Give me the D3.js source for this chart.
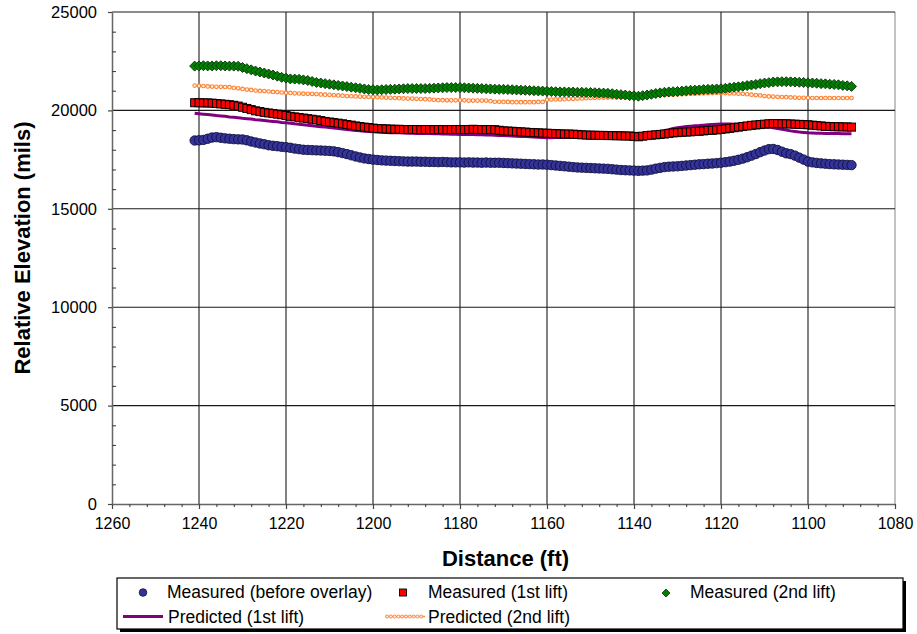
<!DOCTYPE html>
<html>
<head>
<meta charset="utf-8">
<script src="https://cdn.jsdelivr.net/npm/d3@7"></script>
<style>
  html, body { margin: 0; padding: 0; background: #fff; }
  svg { display: block; font-family: "Liberation Sans", Arial, sans-serif; }
</style>
</head>
<body>
<svg id="chart" width="917" height="634"></svg>
<script>
// Survey stations (ft), one reading per foot from 1241 down to 1090
const distance = d3.range(1241, 1089, -1);

// Measured elevation before overlay (mils)
const measuredBefore = [
  18470, 18480, 18500, 18560, 18620, 18640, 18610, 18580, 18560, 18540,
  18530, 18520, 18480, 18420, 18370, 18320, 18280, 18230, 18200, 18180,
  18150, 18130, 18100, 18060, 18030, 18000, 17990, 17980, 17970, 17960,
  17950, 17940, 17920, 17880, 17830, 17780, 17720, 17660, 17610, 17560,
  17530, 17500, 17480, 17460, 17450, 17440, 17430, 17420, 17410, 17400,
  17400, 17400, 17390, 17390, 17380, 17380, 17370, 17380, 17370, 17360,
  17360, 17360, 17350, 17360, 17350, 17350, 17340, 17350, 17340, 17340,
  17340, 17330, 17320, 17310, 17300, 17290, 17280, 17270, 17260, 17250,
  17250, 17240, 17220, 17200, 17180, 17160, 17140, 17120, 17100, 17090,
  17080, 17070, 17060, 17050, 17040, 17030, 17010, 16990, 16970, 16960,
  16950, 16940, 16930, 16940, 16950, 16990, 17040, 17080, 17120, 17140,
  17150, 17160, 17180, 17200, 17220, 17240, 17260, 17270, 17290, 17300,
  17320, 17340, 17370, 17400, 17440, 17490, 17550, 17620, 17700, 17780,
  17880, 17960, 18030, 18040, 17990, 17900, 17820, 17780, 17700, 17600,
  17500, 17400, 17360, 17330, 17310, 17290, 17270, 17260, 17250, 17240,
  17230, 17220
];

// Measured elevation after 1st lift (mils)
const measured1st = [
  20390, 20390, 20380, 20380, 20370, 20350, 20330, 20310, 20290, 20260,
  20220, 20160, 20100, 20040, 19980, 19940, 19900, 19870, 19840, 19810,
  19780, 19740, 19700, 19670, 19640, 19610, 19580, 19550, 19520, 19480,
  19440, 19410, 19380, 19350, 19320, 19280, 19250, 19210, 19180, 19150,
  19130, 19100, 19080, 19070, 19060, 19050, 19040, 19040, 19030, 19030,
  19030, 19030, 19020, 19030, 19030, 19020, 19030, 19030, 19020, 19030,
  19030, 19030, 19020, 19030, 19040, 19030, 19030, 19020, 19030, 19020,
  18990, 18960, 18950, 18940, 18920, 18910, 18900, 18880, 18870, 18860,
  18850, 18840, 18830, 18820, 18810, 18800, 18800, 18790, 18780, 18760,
  18750, 18740, 18740, 18730, 18730, 18720, 18720, 18710, 18710, 18700,
  18700, 18680, 18660, 18690, 18720, 18740, 18760, 18780, 18800, 18830,
  18860, 18870, 18890, 18900, 18910, 18930, 18940, 18960, 18980, 18990,
  19010, 19030, 19060, 19090, 19120, 19150, 19180, 19210, 19240, 19260,
  19280, 19300, 19320, 19330, 19330, 19320, 19320, 19310, 19300, 19290,
  19280, 19270, 19250, 19230, 19210, 19190, 19180, 19170, 19170, 19160,
  19160, 19150
];

// Measured elevation after 2nd lift (mils)
const measured2nd = [
  22250, 22260, 22270, 22260, 22260, 22270, 22270, 22260, 22250, 22250,
  22240, 22180, 22120, 22060, 22000, 21950, 21900, 21850, 21800, 21740,
  21680, 21640, 21600, 21590, 21580, 21550, 21520, 21470, 21420, 21390,
  21360, 21330, 21300, 21270, 21240, 21210, 21180, 21150, 21120, 21090,
  21060, 21050, 21040, 21050, 21060, 21070, 21080, 21090, 21100, 21110,
  21110, 21110, 21110, 21110, 21120, 21130, 21140, 21150, 21160, 21160,
  21160, 21160, 21150, 21140, 21130, 21120, 21110, 21100, 21090, 21080,
  21070, 21070, 21060, 21050, 21040, 21030, 21020, 21010, 21000, 20990,
  20980, 20970, 20960, 20950, 20940, 20940, 20930, 20930, 20920, 20920,
  20910, 20910, 20900, 20890, 20880, 20870, 20850, 20820, 20800, 20780,
  20750, 20740, 20720, 20750, 20780, 20820, 20860, 20890, 20920, 20940,
  20950, 20960, 20980, 21000, 21020, 21030, 21040, 21060, 21070, 21080,
  21090, 21100, 21120, 21150, 21180, 21200, 21230, 21260, 21290, 21320,
  21360, 21390, 21410, 21440, 21450, 21460, 21460, 21450, 21440, 21430,
  21420, 21400, 21390, 21380, 21360, 21350, 21330, 21320, 21300, 21270,
  21250, 21220
];

// Predicted elevation after 1st lift (mils)
const predicted1st = [
  19850, 19830, 19810, 19790, 19770, 19740, 19720, 19700, 19670, 19650,
  19630, 19600, 19580, 19560, 19530, 19510, 19490, 19460, 19440, 19420,
  19390, 19370, 19350, 19320, 19300, 19270, 19250, 19220, 19200, 19170,
  19150, 19130, 19100, 19080, 19050, 19030, 19000, 18980, 18960, 18940,
  18930, 18910, 18900, 18890, 18880, 18870, 18860, 18860, 18850, 18840,
  18840, 18830, 18830, 18820, 18820, 18810, 18810, 18800, 18800, 18790,
  18790, 18780, 18780, 18770, 18770, 18760, 18760, 18750, 18750, 18740,
  18730, 18720, 18710, 18700, 18690, 18680, 18670, 18660, 18650, 18640,
  18620, 18610, 18610, 18620, 18620, 18630, 18640, 18640, 18650, 18660,
  18660, 18670, 18680, 18680, 18690, 18690, 18700, 18700, 18710, 18710,
  18720, 18720, 18740, 18770, 18800, 18840, 18880, 18920, 18970, 19020,
  19080, 19120, 19150, 19180, 19200, 19220, 19230, 19250, 19270, 19290,
  19300, 19310, 19310, 19310, 19300, 19300, 19290, 19280, 19270, 19250,
  19230, 19200, 19160, 19120, 19080, 19040, 19000, 18960, 18930, 18900,
  18880, 18860, 18850, 18840, 18840, 18830, 18830, 18820, 18820, 18810,
  18810, 18810
];

// Predicted elevation after 2nd lift (mils)
const predicted2nd = [
  21260, 21250, 21240, 21220, 21210, 21200, 21200, 21190, 21180, 21150,
  21120, 21090, 21060, 21040, 21010, 20990, 20980, 20960, 20940, 20930,
  20910, 20900, 20890, 20870, 20860, 20850, 20840, 20840, 20830, 20810,
  20800, 20790, 20770, 20760, 20750, 20730, 20720, 20710, 20700, 20690,
  20680, 20680, 20670, 20660, 20650, 20640, 20630, 20620, 20610, 20600,
  20600, 20590, 20580, 20570, 20560, 20540, 20520, 20520, 20510, 20510,
  20510, 20510, 20510, 20500, 20500, 20500, 20500, 20500, 20470, 20440,
  20440, 20430, 20430, 20420, 20420, 20420, 20420, 20420, 20420, 20430,
  20430, 20540, 20550, 20560, 20560, 20570, 20580, 20590, 20600, 20610,
  20620, 20630, 20640, 20650, 20650, 20650, 20660, 20660, 20670, 20680,
  20690, 20700, 20710, 20720, 20730, 20740, 20760, 20770, 20780, 20790,
  20800, 20810, 20820, 20830, 20840, 20850, 20860, 20870, 20880, 20880,
  20890, 20890, 20880, 20870, 20860, 20850, 20840, 20820, 20800, 20780,
  20760, 20730, 20710, 20700, 20690, 20680, 20670, 20660, 20650, 20640,
  20640, 20640, 20630, 20630, 20630, 20630, 20630, 20630, 20630, 20630,
  20630, 20630
];

// Axis ticks
const xTicks = [1260, 1240, 1220, 1200, 1180, 1160, 1140, 1120, 1100, 1080];
const yTicks = [0, 5000, 10000, 15000, 20000, 25000];

const seriesNames = [
  "Measured (before overlay)",
  "Measured (1st lift)",
  "Measured (2nd lift)",
  "Predicted (1st lift)",
  "Predicted (2nd lift)"
];

const svg = d3.select("#chart");
svg.append("rect").attr("width", 917).attr("height", 634).attr("fill", "#fff");

const plot = { left: 112, right: 895, top: 12, bottom: 504 };

// Distance axis runs right-to-left (decreasing stations)
const x = d3.scaleLinear().domain([1260, 1080]).range([plot.left, plot.right]);
const y = d3.scaleLinear().domain([0, 25000]).range([plot.bottom, plot.top]);

// Right border of the plot area
svg.append("line")
  .attr("x1", plot.right).attr("x2", plot.right)
  .attr("y1", plot.top).attr("y2", plot.bottom)
  .attr("stroke", "#9a9a9a").attr("stroke-width", 1.2);

// Gridlines
const grid = svg.append("g").attr("stroke", "#1a1a1a").attr("stroke-width", 1.1);
xTicks.filter(d => d !== 1260 && d !== 1080).forEach(d => {
  grid.append("line")
    .attr("x1", x(d)).attr("x2", x(d))
    .attr("y1", plot.top).attr("y2", plot.bottom);
});
yTicks.filter(d => d !== 0).forEach(d => {
  grid.append("line")
    .attr("x1", plot.left).attr("x2", plot.right)
    .attr("y1", y(d)).attr("y2", y(d));
});

// X axis: major ticks outward, minor ticks every 4 ft
const xAxis = svg.append("g")
  .attr("transform", `translate(0,${plot.bottom})`)
  .call(d3.axisBottom(x).tickValues(xTicks).tickSize(5).tickSizeOuter(0).tickFormat(d3.format("d")));
xAxis.select(".domain").attr("stroke", "#666").attr("stroke-width", 1.5);
xAxis.selectAll(".tick line").attr("stroke", "#444").attr("stroke-width", 1.2);
xAxis.selectAll(".tick text")
  .attr("font-size", 16).attr("fill", "#000")
  .attr("font-family", "'Liberation Sans', Arial, sans-serif")
  .attr("dy", "1.05em");
svg.append("g")
  .attr("transform", `translate(0,${plot.bottom})`)
  .call(d3.axisBottom(x).tickValues(d3.range(1256, 1080, -4).filter(v => v % 20 !== 0)).tickSize(3).tickFormat(""))
  .call(g => g.select(".domain").remove())
  .selectAll(".tick line").attr("stroke", "#444").attr("stroke-width", 1.1);

// Y axis: major ticks outward, minor ticks inward every 1000 mils
const yAxis = svg.append("g")
  .attr("transform", `translate(${plot.left},0)`)
  .call(d3.axisLeft(y).tickValues(yTicks).tickSize(4).tickSizeOuter(0).tickFormat(d3.format("d")));
yAxis.select(".domain").attr("stroke", "#666").attr("stroke-width", 1.5);
yAxis.selectAll(".tick line").attr("stroke", "#444").attr("stroke-width", 1.2);
yAxis.selectAll(".tick text")
  .attr("font-size", 16.5).attr("fill", "#000")
  .attr("font-family", "'Liberation Sans', Arial, sans-serif")
  .attr("x", -15);
svg.append("g")
  .attr("transform", `translate(${plot.left},0)`)
  .call(d3.axisRight(y).tickValues(d3.range(1000, 25000, 1000).filter(v => v % 5000 !== 0)).tickSize(4).tickFormat(""))
  .call(g => g.select(".domain").remove())
  .selectAll(".tick line").attr("stroke", "#444").attr("stroke-width", 1.1);

// Axis titles
svg.append("text")
  .attr("x", (plot.left + plot.right) / 2 + 2).attr("y", 566)
  .attr("text-anchor", "middle")
  .attr("font-size", 22).attr("font-weight", "bold")
  .text("Distance (ft)");
svg.append("text")
  .attr("transform", "translate(29.5,248) rotate(-90)")
  .attr("text-anchor", "middle")
  .attr("font-size", 22).attr("font-weight", "bold")
  .text("Relative Elevation (mils)");

const rows = distance.map((d, i) => ({
  d,
  before: measuredBefore[i],
  lift1: measured1st[i],
  lift2: measured2nd[i],
  pred1: predicted1st[i],
  pred2: predicted2nd[i]
}));

const diamondPath = (cx, cy, r) =>
  `M${cx},${cy - r}L${cx + r},${cy}L${cx},${cy + r}L${cx - r},${cy}Z`;

const marks = svg.append("g");

// Predicted (1st lift): solid purple line
marks.append("path")
  .datum(rows)
  .attr("fill", "none")
  .attr("stroke", "#800080")
  .attr("stroke-width", 3)
  .attr("d", d3.line().x(r => x(r.d)).y(r => y(r.pred1)));

// Predicted (2nd lift): thin orange line with small open circles
marks.append("path")
  .datum(rows)
  .attr("fill", "none")
  .attr("stroke", "#ff8c40")
  .attr("stroke-width", 1.4)
  .attr("d", d3.line().x(r => x(r.d)).y(r => y(r.pred2)));
marks.append("g").selectAll("circle")
  .data(rows).join("circle")
  .attr("cx", r => x(r.d)).attr("cy", r => y(r.pred2))
  .attr("r", 1.8)
  .attr("fill", "#fff0e4").attr("stroke", "#ff8030").attr("stroke-width", 1.1);

// Measured (before overlay): navy circles
marks.append("g").selectAll("circle")
  .data(rows).join("circle")
  .attr("cx", r => x(r.d)).attr("cy", r => y(r.before))
  .attr("r", 4.7)
  .attr("fill", "#333399").attr("stroke", "#10103c").attr("stroke-width", 0.9);

// Measured (1st lift): red squares
marks.append("g").selectAll("rect")
  .data(rows).join("rect")
  .attr("x", r => x(r.d) - 4).attr("y", r => y(r.lift1) - 4)
  .attr("width", 8).attr("height", 8)
  .attr("fill", "#ff0000").attr("stroke", "#000").attr("stroke-width", 1);

// Measured (2nd lift): green diamonds
marks.append("g").selectAll("path")
  .data(rows).join("path")
  .attr("d", r => diamondPath(x(r.d), y(r.lift2), 5))
  .attr("fill", "#008000").attr("stroke", "#0a300a").attr("stroke-width", 0.9);

// Legend box with drop shadow
const legend = svg.append("g");
legend.append("rect")
  .attr("x", 120).attr("y", 581).attr("width", 786).attr("height", 51)
  .attr("fill", "#000");
legend.append("rect")
  .attr("x", 117).attr("y", 578).attr("width", 786).attr("height", 51)
  .attr("fill", "#fff").attr("stroke", "#000").attr("stroke-width", 1.2);

const legendText = (tx, ty, label) => legend.append("text")
  .attr("x", tx).attr("y", ty)
  .attr("font-size", 17.5).attr("fill", "#000")
  .text(label);

legend.append("circle").attr("cx", 143).attr("cy", 592.5).attr("r", 3.8)
  .attr("fill", "#333399").attr("stroke", "#10103c").attr("stroke-width", 0.8);
legendText(167, 597.5, seriesNames[0]);

legend.append("rect").attr("x", 399.5).attr("y", 589).attr("width", 7).attr("height", 7)
  .attr("fill", "#ff0000").attr("stroke", "#000").attr("stroke-width", 0.9);
legendText(428, 597.5, seriesNames[1]);

legend.append("path").attr("d", diamondPath(666, 593, 4))
  .attr("fill", "#008000").attr("stroke", "#0a300a").attr("stroke-width", 0.8);
legendText(690, 597.5, seriesNames[2]);

legend.append("line").attr("x1", 123).attr("x2", 163).attr("y1", 616.5).attr("y2", 616.5)
  .attr("stroke", "#800080").attr("stroke-width", 3);
legendText(168, 622.5, seriesNames[3]);

legend.append("line").attr("x1", 385).attr("x2", 425).attr("y1", 616.5).attr("y2", 616.5)
  .attr("stroke", "#ff8c40").attr("stroke-width", 1.4);
legend.append("g").selectAll("circle")
  .data(d3.range(387, 425, 3.8)).join("circle")
  .attr("cx", cx => cx).attr("cy", 616.5).attr("r", 1.5)
  .attr("fill", "#fff0e4").attr("stroke", "#ff8030").attr("stroke-width", 0.9);
legendText(428, 622.5, seriesNames[4]);
</script>
</body>
</html>
